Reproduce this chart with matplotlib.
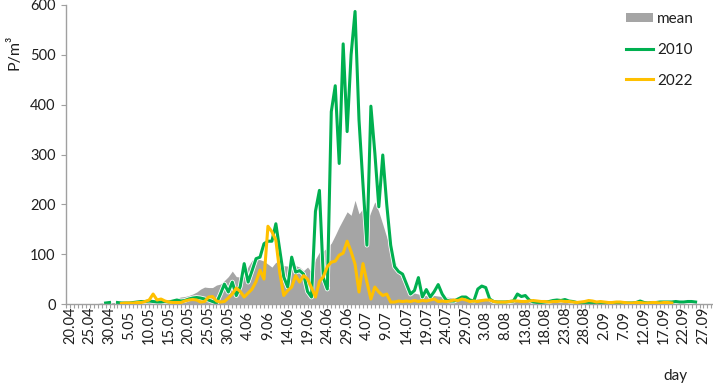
import numpy as np
import matplotlib
matplotlib.use("Agg")
import matplotlib.pyplot as plt
import matplotlib.patheffects as pe

plt.rcParams['font.family'] = ['Lato', 'DejaVu Sans']

nan = np.nan

# daily values, day 0 = 20.04 ... day 160 = 27.09
mean = [
    0, 0, 0, 0, 0, 0, 1, 1, 2, 2,
    2, 3, 3, 3, 4, 4, 5, 5, 6, 6,
    6, 7, 7, 7, 8, 9, 10, 12, 14, 15,
    17, 20, 24, 30, 34, 33, 33, 38, 40, 47,
    55, 66, 55, 54, 60, 75, 88, 90, 89, 86,
    80, 74, 84, 80, 77, 76, 78, 77, 74, 67,
    74, 64, 90, 104, 106, 114, 122, 138, 155, 170,
    185, 178, 208, 181, 192, 165, 185, 205, 185, 160,
    134, 110, 88, 66, 47, 36, 27, 22, 20, 18,
    17, 16, 17, 16, 15, 14, 13, 12, 12, 11,
    11, 11, 10, 10, 10, 9, 9, 8, 8, 8,
    7, 7, 6, 6, 6, 5, 5, 5, 5, 5,
    4, 4, 4, 4, 4, 4, 4, 4, 3, 3,
    3, 3, 3, 3, 3, 3, 3, 3, 3, 2,
    2, 2, 2, 2, 2, 2, 2, 2, 2, 2,
    2, 2, 2, 1, 1, 1, 1, 1, 1, 1,
    1,
]

y2010 = [
    nan, nan, nan, nan, nan, nan, nan, nan, nan, 2,
    3, nan, 3, 2, 2, 2, 3, 4, 5, 5,
    6, 5, 4, 4, 5, 4, 6, 8, 6, 7,
    10, 12, 13, 12, 10, 8, 5, 2, 20, 40,
    24, 44, 17, 35, 81, 44, 67, 91, 94, 121,
    126, 126, 161, 108, 54, 34, 94, 64, 67, 60,
    25, 14, 186, 228, 52, 30, 386, 438, 282, 522,
    346, 500, 587, 369, 240, 118, 397, 303, 195, 299,
    200, 118, 75, 65, 60, 40, 20, 27, 53, 14,
    29, 14, 25, 39, 20, 8, 6, 6, 10, 14,
    14, 8, 6, 30, 36, 33, 10, 5, 4, 4,
    4, 5, 6, 20, 15, 17, 8, 4, 3, 3,
    4, 5, 7, 8, 7, 9, 6, 5, 3, 2,
    2, 2, 3, 3, 2, 2, 2, 3, 3, 3,
    2, 2, 2, 3, 6, 3, 2, 3, 3, 4,
    4, 4, 4, 5, 4, 4, 5, 5, 4, nan,
    nan,
]

y2022 = [
    nan, nan, nan, nan, nan, nan, nan, nan, nan, nan,
    nan, nan, nan, 1, 2, 2, 2, 3, 3, 5,
    8, 20, 8, 10, 6, 4, 3, 3, 3, 6,
    8, 9, 8, 4, 5, 14, 15, 6, 4, 5,
    12, 20, 32, 25, 14, 22, 30, 45, 68, 50,
    156, 145, 128, 62, 17, 27, 34, 57, 44, 57,
    50, 33, 14, 45, 55, 75, 84, 86, 98, 102,
    126, 105, 80, 24, 81, 44, 10, 34, 24, 17,
    20, 4, 4, 6, 5, 6, 5, 7, 5, 7,
    6, 8, 10, 5, 6, 5, 6, 8, 7, 10,
    8, 5, 6, 5, 7, 8, 8, 5, 4, 4,
    4, 5, 6, 6, 5, 5, 6, 7, 6, 5,
    5, 4, 5, 5, 6, 5, 5, 4, 3, 4,
    5, 7, 6, 4, 5, 4, 3, 3, 4, 4,
    3, 2, 2, 3, 3, 2, 2, 3, 3, 2,
    3, 3, 2, nan, nan, nan, nan, nan, nan, nan,
    nan,
]

tick_labels = ['20.04', '25.04', '30.04', '5.05', '10.05', '15.05', '20.05',
               '25.05', '30.05', '4.06', '9.06', '14.06', '19.06', '24.06',
               '29.06', '4.07', '9.07', '14.07', '19.07', '24.07', '29.07',
               '3.08', '8.08', '13.08', '18.08', '23.08', '28.08', '2.09',
               '7.09', '12.09', '17.09', '22.09', '27.09']

days = np.arange(len(mean))

fig = plt.figure(figsize=(7.13, 3.85), dpi=100)
ax = fig.add_axes([66 / 713, 1 - 304 / 385, 647 / 713, 299 / 385])

ax.fill_between(days, mean, color='#a5a5a5', lw=0, label='mean', zorder=1)
ax.plot(days, y2010, color='#00b050', lw=2.2, label='2010', zorder=2,
        path_effects=[pe.Stroke(linewidth=3.4, foreground='white'), pe.Normal()])
ax.plot(days, y2022, color='#ffc000', lw=2.2, label='2022', zorder=3)

ax.set_xlim(-1, 162.4)
ax.set_ylim(0, 600)
ax.set_yticks(np.arange(0, 601, 100))
ax.set_xticks(np.arange(0, 161, 5), tick_labels, rotation=90, va='center', ha='center')
ax.set_xticks(np.arange(-1, 163), minor=True)

for s in ['top', 'right']:
    ax.spines[s].set_visible(False)
for s in ['left', 'bottom']:
    ax.spines[s].set_color('#a0a0a0')
    ax.spines[s].set_linewidth(1.0)

ax.tick_params(axis='x', which='both', length=3, width=0.8, color='#a0a0a0',
               pad=12.4, labelsize=10.5, labelcolor='#1f1f1f')
ax.tick_params(axis='y', length=3.5, width=0.8, color='#a0a0a0', pad=4,
               labelsize=10.5, labelcolor='#1f1f1f')

fig.text(14 / 713, 1 - 52 / 385, 'P/m³', rotation=90, ha='center', va='center',
         fontsize=11.5, color='#1f1f1f')
fig.text(675 / 713, 1 - 376 / 385, 'day', ha='center', va='center',
         fontsize=11, color='#1f1f1f')

ax.legend(loc='upper left', bbox_to_anchor=(626 / 713, 1 - 12 / 385),
          bbox_transform=fig.transFigure, frameon=False, fontsize=11,
          handlelength=1.75, handleheight=0.6, handletextpad=0.3,
          labelspacing=1.1, borderpad=0, borderaxespad=0, labelcolor='#1f1f1f')

fig.savefig('out.png', dpi=100)
